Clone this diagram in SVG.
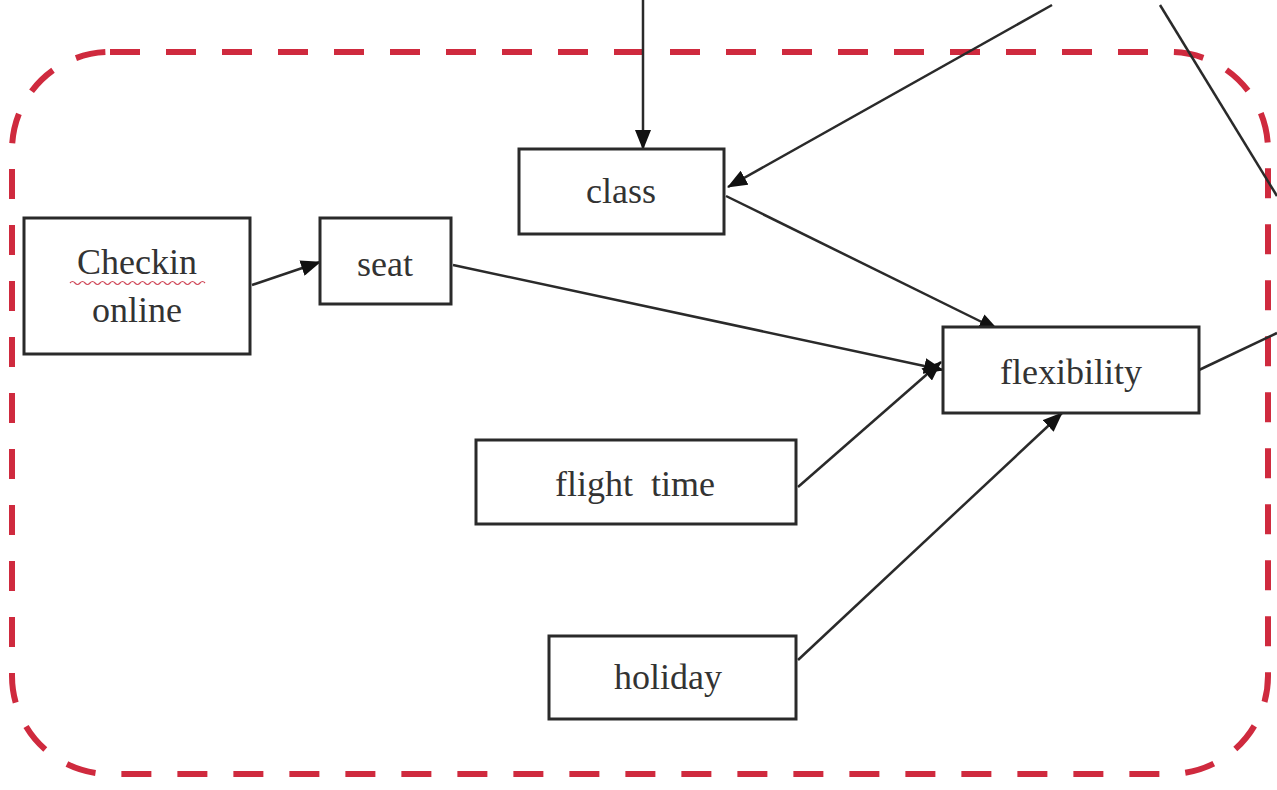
<svg xmlns="http://www.w3.org/2000/svg" width="1277" height="790" viewBox="0 0 1277 790">
  <style>
    .box { fill: #ffffff; stroke: #2a2a2a; stroke-width: 3; }
    .lbl { font-family: "Liberation Serif", "Times New Roman", serif; font-size: 36px; fill: #333333; text-anchor: middle; }
    .edge { stroke: #2a2a2a; stroke-width: 2.5; fill: none; }
    .arrow { marker-end: url(#head); }
    .group { fill: none; stroke: #cf2a3e; stroke-width: 6; stroke-dasharray: 30 26; }
  </style>
  <defs>
    <marker id="head" markerUnits="userSpaceOnUse" markerWidth="20" markerHeight="16" refX="19" refY="8" orient="auto">
      <path d="M0,0 L20,8 L0,16 Z" fill="#111111"/>
    </marker>
  </defs>

  <rect width="1277" height="790" fill="#ffffff"/>

  <!-- dashed grouping boundary -->
  <rect class="group" x="12" y="52" width="1256" height="722" rx="98" ry="98"/>

  <!-- connectors -->
  <g id="connectors">
    <line class="edge arrow" x1="252" y1="285" x2="320" y2="262"/>
    <line class="edge arrow" x1="453" y1="265" x2="943" y2="370"/>
    <line class="edge arrow" x1="726" y1="196" x2="998" y2="330"/>
    <line class="edge arrow" x1="643" y1="0" x2="643" y2="149"/>
    <line class="edge arrow" x1="1052" y1="5" x2="728" y2="187"/>
    <line class="edge" x1="1160" y1="5" x2="1277" y2="196"/>
    <line class="edge" x1="1199" y1="370" x2="1277" y2="333"/>
    <line class="edge arrow" x1="798" y1="487" x2="941" y2="362"/>
    <line class="edge arrow" x1="798" y1="660" x2="1062" y2="413"/>
  </g>

  <g id="checkin">
    <rect class="box" x="24" y="218" width="226" height="136"/>
    <text class="lbl" x="137" y="274">Checkin</text>
    <path d="M70,283 q2.5,-3 5,0 t5,0 t5,0 t5,0 t5,0 t5,0 t5,0 t5,0 t5,0 t5,0 t5,0 t5,0 t5,0 t5,0 t5,0 t5,0 t5,0 t5,0 t5,0 t5,0 t5,0 t5,0 t5,0 t5,0 t5,0 t5,0 t5,0" fill="none" stroke="#d04a5a" stroke-width="1.2"/>
    <text class="lbl" x="137" y="322">online</text>
  </g>

  <g id="seat">
    <rect class="box" x="320" y="218" width="131" height="86"/>
    <text class="lbl" x="385" y="276">seat</text>
  </g>

  <g id="class">
    <rect class="box" x="519" y="149" width="205" height="85"/>
    <text class="lbl" x="621" y="203">class</text>
  </g>

  <g id="flexibility">
    <rect class="box" x="943" y="327" width="256" height="86"/>
    <text class="lbl" x="1071" y="384">flexibility</text>
  </g>

  <g id="flight-time">
    <rect class="box" x="476" y="440" width="320" height="84"/>
    <text class="lbl" x="635" y="496" xml:space="preserve">flight  time</text>
  </g>

  <g id="holiday">
    <rect class="box" x="549" y="636" width="247" height="83"/>
    <text class="lbl" x="668" y="689">holiday</text>
  </g>
</svg>
